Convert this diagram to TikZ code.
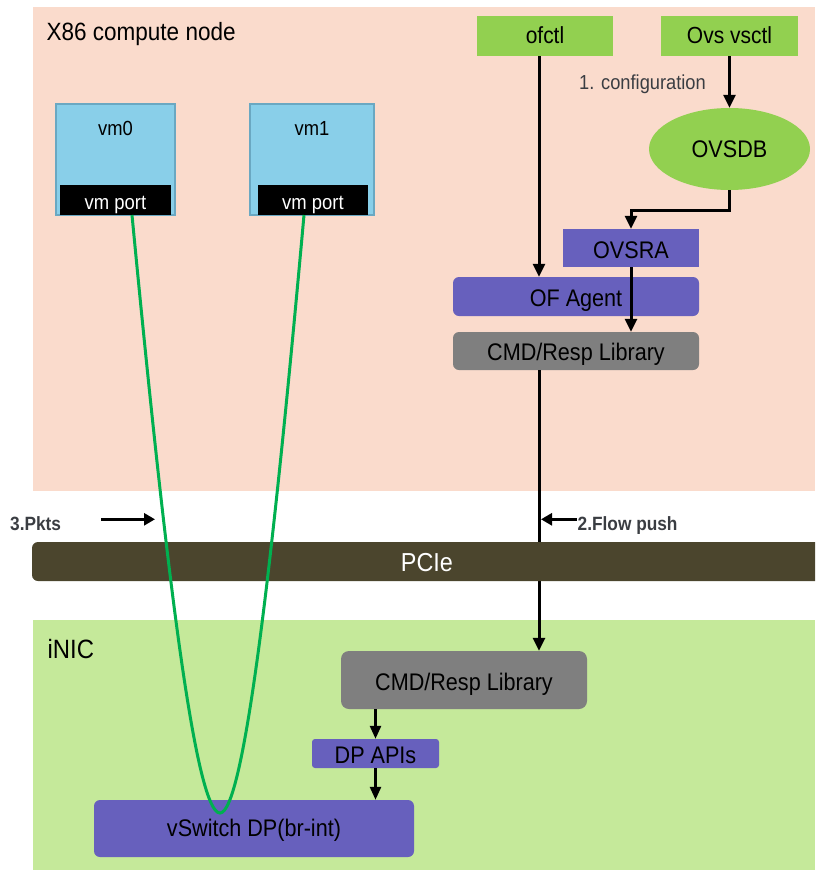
\documentclass[tikz,border=0pt]{standalone}
\usepackage{fontspec}
\setmainfont{Liberation Sans}[FakeStretch=0.9]
\usetikzlibrary{arrows.meta,shapes.geometric}

\definecolor{hostbg}{HTML}{FADBCC}
\definecolor{nicbg}{HTML}{C5E99A}
\definecolor{boxgreen}{HTML}{92D050}
\definecolor{boxpurple}{HTML}{6760BD}
\definecolor{boxgrey}{HTML}{7F7F7F}
\definecolor{vmblue}{HTML}{89CFE9}
\definecolor{vmedge}{HTML}{6AA8C2}
\definecolor{busfill}{HTML}{4B452D}
\definecolor{pktline}{HTML}{00B050}
\definecolor{notegrey}{HTML}{3A3D42}

\begin{document}
\begin{tikzpicture}[x=1pt,y=-1pt,
  txt/.style={inner sep=0pt, text height=18.5pt, text depth=0pt,
              font=\fontsize{24}{28}\selectfont},
  cfgbox/.style={txt, fill=boxgreen, minimum height=40pt, text height=15pt,
                 font=\fontsize{23.3}{28}\selectfont},
  swbox/.style={txt, fill=boxpurple},
  libbox/.style={txt, fill=boxgrey},
  vmbox/.style={inner sep=0pt, fill=vmblue, draw=vmedge, line width=1.5pt, minimum height=111pt},
  vmtext/.style={inner sep=0pt, font=\fontsize{20.4}{24}\selectfont},
  portbox/.style={inner sep=0pt, fill=black, text=white, minimum height=30pt,
                  text height=18pt, text depth=0pt, font=\fontsize{20.5}{24}\selectfont},
  areatitle/.style={inner sep=0pt, anchor=base west},
  note/.style={inner sep=0pt, anchor=base west, text=notegrey, font=\bfseries\fontsize{19.2}{23}\selectfont},
  conn/.style={line width=3pt, -{Triangle[length=13pt,width=12pt]}},
  nicconn/.style={line width=2.6pt, -{Triangle[length=13pt,width=11pt]}},
  noteconn/.style={line width=2.6pt, -{Triangle[length=11pt,width=12pt]}},
  pktpath/.style={draw=pktline, line width=3pt}
]
\useasboundingbox (0,0) rectangle (815,871);

\begin{scope}
\clip (0,0) rectangle (815,871);

% host and NIC areas
\fill[hostbg] (33,7) rectangle (815,491);
\fill[nicbg] (33,620) rectangle (815,870);

% area titles
\node[areatitle, font=\fontsize{25}{30}\selectfont] (hosttitle) at (46.5,40.5) {X86 compute node};
\node[areatitle, font=\fontsize{26.5}{30}\selectfont] (nictitle) at (47.5,658.3) {iNIC};

% virtual machines
\node[vmbox, minimum width=119pt] (vm0) at (115.5,159.5) {};
\node[vmtext, anchor=base] (vm0name) at (115.5,135) {vm0};
\node[portbox, minimum width=111pt] (port0) at (115.5,200) {vm port};
\node[vmbox, minimum width=124pt] (vm1) at (312,159.5) {};
\node[vmtext, anchor=base] (vm1name) at (312,135) {vm1};
\node[portbox, minimum width=110pt] (port1) at (313,200) {vm port};

% control tools and agents on the host
\node[cfgbox, minimum width=136pt] (ofctl) at (545,36) {ofctl};
\node[cfgbox, minimum width=137pt] (vsctl) at (729.5,36) {Ovs vsctl};
\node[txt, ellipse, fill=boxgreen, minimum width=161pt, minimum height=82pt, text height=17pt] (ovsdb) at (729.5,149) {OVSDB};
\node[swbox, minimum width=136pt, minimum height=38pt, text height=20pt] (ovsra) at (631,248) {OVSRA};
\node[swbox, rounded corners=6pt, minimum width=246pt, minimum height=39pt, text height=20pt] (ofagent) at (576,296.5) {OF Agent};
\node[libbox, rounded corners=6pt, minimum width=246pt, minimum height=38pt] (cmdhost) at (576,351) {CMD/Resp Library};
\node[inner sep=0pt, anchor=base west, text=notegrey, font=\fontsize{20.3}{24}\selectfont] (cfgnote) at (579,89.3) {1. configuration};

% NIC side blocks
\node[libbox, rounded corners=8pt, minimum width=246pt, minimum height=58pt, text height=20pt] (cmdnic) at (464,680) {CMD/Resp Library};
\node[swbox, rounded corners=3pt, minimum width=127pt, minimum height=29pt, text height=19.5pt] (dpapi) at (375.5,753.5) {DP APIs};
\node[swbox, rounded corners=6pt, minimum width=320pt, minimum height=57pt, text height=16.5pt] (vswitch) at (254,828.5) {vSwitch DP(br-int)};

% column of the flow push path
\coordinate (flowx) at (539,0);

% flow push from host library down to the NIC library
\draw[conn] (cmdhost.south -| flowx) -- (cmdnic.north -| flowx);

% PCIe bus
\node[inner sep=0pt, fill=busfill, rounded corners=6pt, minimum width=790pt, minimum height=39pt,
      text=white, text height=20.4pt, text depth=0pt, font=\fontsize{26}{30}\selectfont]
      (pcie) at (427,561.5) {PCIe};

\end{scope}

% host control connectors
\draw[conn] (ofctl.south -| flowx) -- (ofagent.north -| flowx);
\draw[conn] (vsctl.south) -- (ovsdb.north);
\draw[conn] (ovsdb.south) -- ++(0,20) -| (ovsra.north);
\draw[conn] (ovsra.south) -- (ovsra.south |- cmdhost.north);

% NIC connectors
\draw[nicconn] (cmdnic.south -| dpapi.north) -- (dpapi.north);
\draw[nicconn] (dpapi.south) -- (dpapi.south |- vswitch.north);

% packet path between the two vm ports through the vSwitch
\coordinate (p0) at (132,215);
\coordinate (p1) at (304,215);
\coordinate (pktbend) at (220,813);
\draw[pktpath] (p0) .. controls (165,560) and (195,813) .. (pktbend)
               .. controls (244,813) and (273,560) .. (p1);

% step notes
\node[note] (pktsnote) at (10,530) {3.Pkts};
\coordinate (pktsfrom) at (101,519.3);
\coordinate (pktsto) at (155,519.3);
\draw[noteconn] (pktsfrom) -- (pktsto);

\node[note] (flownote) at (577.5,530) {2.Flow push};
\coordinate (flowfrom) at (577,519.3);
\coordinate (flowto) at (541,519.3);
\draw[noteconn] (flowfrom) -- (flowto);

\end{tikzpicture}
\end{document}
